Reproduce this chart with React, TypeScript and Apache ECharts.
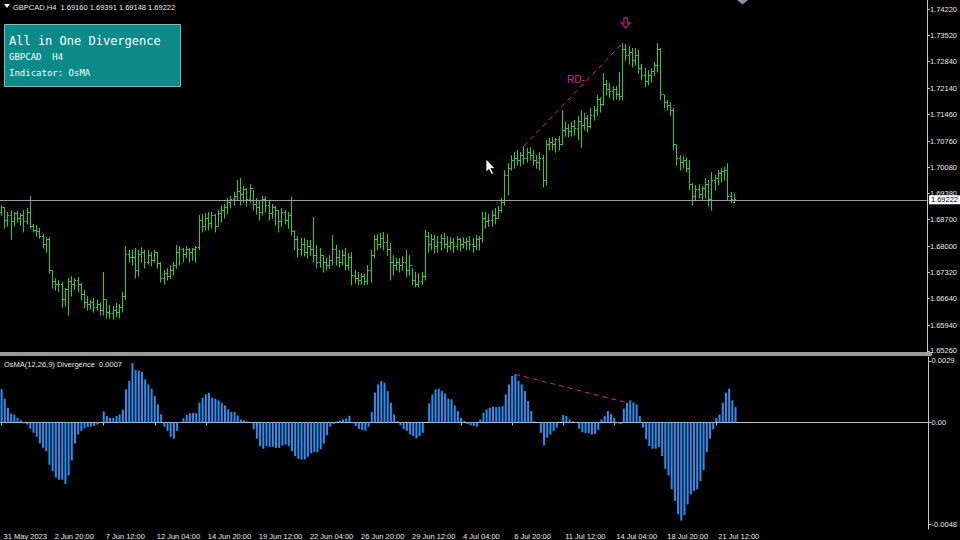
import React, { useEffect, useRef } from "react";
import * as echarts from "echarts";

// ---- data (GBPCAD H4, 231 bars, 3.2px per bar in the picture) ----
const TIME_LABELS = [
  "31 May 2023", "2 Jun 20:00", "7 Jun 12:00", "12 Jun 04:00", "14 Jun 20:00",
  "19 Jun 12:00", "22 Jun 04:00", "26 Jun 20:00", "29 Jun 12:00", "4 Jul 04:00",
  "6 Jul 20:00", "11 Jul 12:00", "14 Jul 04:00", "18 Jul 20:00", "21 Jul 12:00",
];
const LABEL_EVERY = 16;
const SLOT_COUNT = 291;

const PRICE_TICKS = [1.7422, 1.7352, 1.7284, 1.7214, 1.7146, 1.7076, 1.7008, 1.6938, 1.687, 1.68, 1.6732, 1.6664, 1.6594, 1.6526];
const OSMA_TICKS = [0.0029, 0, -0.0048];
const LAST_PRICE = 1.69222;
const PRICE_DIV = [164, 195];
const OSMA_DIV = [161, 196];

const OPEN = [
  1.6890, 1.6901, 1.6869, 1.6882, 1.6864, 1.6885, 1.6874, 1.6880, 1.6864, 1.6890, 1.6853,
  1.6843,
  1.6838, 1.6827, 1.6806, 1.6817, 1.6738, 1.6707, 1.6699, 1.6701, 1.6660, 1.6686, 1.6707, 1.6699, 1.6712, 1.6701,
  1.6673,
  1.6654, 1.6647, 1.6652, 1.6639, 1.6649, 1.6633, 1.6660, 1.6628, 1.6623, 1.6633, 1.6628, 1.6639, 1.6670, 1.6780,
  1.6770,
  1.6770, 1.6738, 1.6780, 1.6785, 1.6759, 1.6775, 1.6764, 1.6783, 1.6754, 1.6717, 1.6728, 1.6722, 1.6738, 1.6749,
  1.6785,
  1.6791, 1.6780, 1.6791, 1.6785, 1.6791, 1.6796, 1.6869, 1.6853, 1.6874, 1.6859, 1.6880, 1.6853, 1.6885, 1.6895,
  1.6901,
  1.6916, 1.6922, 1.6932, 1.6943, 1.6937, 1.6948, 1.6922, 1.6953, 1.6911, 1.6901, 1.6890, 1.6922, 1.6906, 1.6885,
  1.6901,
  1.6895, 1.6864, 1.6890, 1.6869, 1.6880, 1.6838, 1.6817, 1.6791, 1.6806, 1.6785, 1.6801, 1.6791, 1.6777, 1.6759,
  1.6775,
  1.6759, 1.6749, 1.6764, 1.6791, 1.6770, 1.6759, 1.6775, 1.6749, 1.6770, 1.6725, 1.6717, 1.6712, 1.6722, 1.6709,
  1.6738,
  1.6777, 1.6817, 1.6804, 1.6822, 1.6811, 1.6791, 1.6759, 1.6749, 1.6759, 1.6749, 1.6759, 1.6738, 1.6751, 1.6712,
  1.6701,
  1.6707, 1.6722, 1.6827, 1.6806, 1.6817, 1.6801, 1.6811, 1.6822, 1.6806, 1.6801, 1.6811, 1.6801, 1.6817, 1.6806,
  1.6811,
  1.6814, 1.6806, 1.6801, 1.6817, 1.6822, 1.6874, 1.6864, 1.6869, 1.6882, 1.6874, 1.6895, 1.6916, 1.6987, 1.7005,
  1.7026,
  1.7031, 1.7026, 1.7037, 1.7031, 1.7047, 1.7037, 1.7026, 1.7021, 1.7031, 1.6974, 1.7066, 1.7073, 1.7066, 1.7079,
  1.7068,
  1.7105, 1.7110, 1.7100, 1.7115, 1.7110, 1.7126, 1.7118, 1.7136, 1.7115, 1.7144, 1.7157, 1.7184, 1.7173, 1.7223,
  1.7210,
  1.7205, 1.7210, 1.7199, 1.7194, 1.7315, 1.7301, 1.7309, 1.7288, 1.7299, 1.7267, 1.7249, 1.7231, 1.7247, 1.7257,
  1.7273,
  1.7315, 1.7197, 1.7178, 1.7168, 1.7157, 1.7066, 1.7031, 1.7021, 1.7026, 1.7005, 1.6961, 1.6932, 1.6948, 1.6937,
  1.6953,
  1.6961, 1.6922, 1.6974, 1.6979, 1.6990, 1.6995, 1.7000, 1.6932, 1.6916,
];

const HIGH = [
  1.6908, 1.6903, 1.6890, 1.6895, 1.6890, 1.6893, 1.6887, 1.6895, 1.6901, 1.6932, 1.6859,
  1.6856,
  1.6848, 1.6832, 1.6824, 1.6824, 1.6738, 1.6717, 1.6712, 1.6707, 1.6691, 1.6717, 1.6722, 1.6717, 1.6720, 1.6704,
  1.6686,
  1.6670, 1.6660, 1.6665, 1.6660, 1.6654, 1.6733, 1.6660, 1.6647, 1.6644, 1.6652, 1.6649, 1.6681, 1.6801, 1.6791,
  1.6791,
  1.6796, 1.6791, 1.6798, 1.6791, 1.6791, 1.6785, 1.6791, 1.6785, 1.6759, 1.6738, 1.6743, 1.6751, 1.6759, 1.6804,
  1.6801,
  1.6796, 1.6801, 1.6796, 1.6796, 1.6801, 1.6882, 1.6885, 1.6887, 1.6890, 1.6890, 1.6885, 1.6895, 1.6908, 1.6911,
  1.6927,
  1.6932, 1.6943, 1.6974, 1.6979, 1.6958, 1.6953, 1.6963, 1.6948, 1.6927, 1.6922, 1.6932, 1.6930, 1.6922, 1.6911,
  1.6906,
  1.6895, 1.6901, 1.6895, 1.6890, 1.6930, 1.6843, 1.6827, 1.6822, 1.6822, 1.6817, 1.6817, 1.6877, 1.6804, 1.6796,
  1.6777,
  1.6770, 1.6777, 1.6830, 1.6804, 1.6791, 1.6791, 1.6796, 1.6783, 1.6785, 1.6738, 1.6733, 1.6730, 1.6728, 1.6751,
  1.6791,
  1.6830, 1.6832, 1.6835, 1.6838, 1.6832, 1.6809, 1.6777, 1.6770, 1.6770, 1.6775, 1.6791, 1.6777, 1.6743, 1.6733,
  1.6730,
  1.6733, 1.6843, 1.6838, 1.6832, 1.6830, 1.6827, 1.6832, 1.6835, 1.6827, 1.6824, 1.6822, 1.6827, 1.6822, 1.6824,
  1.6824,
  1.6827, 1.6822, 1.6830, 1.6827, 1.6890, 1.6890, 1.6885, 1.6895, 1.6901, 1.6906, 1.6927, 1.7000, 1.7018, 1.7039,
  1.7047,
  1.7053, 1.7047, 1.7063, 1.7058, 1.7060, 1.7053, 1.7039, 1.7047, 1.7039, 1.7079, 1.7084, 1.7087, 1.7084, 1.7089,
  1.7157,
  1.7126, 1.7120, 1.7126, 1.7131, 1.7142, 1.7157, 1.7149, 1.7144, 1.7163, 1.7168, 1.7197, 1.7191, 1.7254, 1.7236,
  1.7228,
  1.7220, 1.7220, 1.7257, 1.7333, 1.7330, 1.7325, 1.7320, 1.7320, 1.7315, 1.7278, 1.7267, 1.7262, 1.7267, 1.7283,
  1.7333,
  1.7320, 1.7197, 1.7184, 1.7178, 1.7163, 1.7066, 1.7039, 1.7037, 1.7034, 1.7026, 1.6966, 1.6961, 1.6963, 1.6958,
  1.6979,
  1.6974, 1.6995, 1.6987, 1.7000, 1.7005, 1.7008, 1.7018, 1.6943, 1.6939,
];

const LOW = [
  1.6882, 1.6848, 1.6853, 1.6819, 1.6853, 1.6864, 1.6856, 1.6838, 1.6859, 1.6848, 1.6838,
  1.6827,
  1.6822, 1.6796, 1.6785, 1.6730, 1.6691, 1.6686, 1.6681, 1.6641, 1.6644, 1.6620, 1.6670, 1.6686, 1.6681, 1.6660,
  1.6639,
  1.6633, 1.6636, 1.6628, 1.6633, 1.6620, 1.6620, 1.6612, 1.6612, 1.6610, 1.6615, 1.6612, 1.6628, 1.6660, 1.6759,
  1.6751,
  1.6717, 1.6722, 1.6759, 1.6743, 1.6754, 1.6749, 1.6759, 1.6743, 1.6707, 1.6701, 1.6712, 1.6717, 1.6725, 1.6743,
  1.6751,
  1.6759, 1.6770, 1.6759, 1.6764, 1.6759, 1.6791, 1.6838, 1.6843, 1.6843, 1.6848, 1.6838, 1.6853, 1.6864, 1.6874,
  1.6885,
  1.6901, 1.6908, 1.6922, 1.6908, 1.6916, 1.6906, 1.6916, 1.6895, 1.6885, 1.6869, 1.6882, 1.6890, 1.6869, 1.6874,
  1.6856,
  1.6838, 1.6853, 1.6859, 1.6848, 1.6830, 1.6791, 1.6772, 1.6777, 1.6775, 1.6770, 1.6777, 1.6759, 1.6743, 1.6746,
  1.6733,
  1.6738, 1.6743, 1.6751, 1.6751, 1.6746, 1.6751, 1.6738, 1.6738, 1.6699, 1.6704, 1.6699, 1.6701, 1.6699, 1.6701,
  1.6707,
  1.6770, 1.6791, 1.6796, 1.6791, 1.6777, 1.6712, 1.6725, 1.6738, 1.6733, 1.6738, 1.6720, 1.6725, 1.6699, 1.6694,
  1.6694,
  1.6701, 1.6712, 1.6785, 1.6791, 1.6783, 1.6785, 1.6791, 1.6796, 1.6785, 1.6791, 1.6785, 1.6791, 1.6788, 1.6796,
  1.6791,
  1.6791, 1.6785, 1.6791, 1.6791, 1.6811, 1.6848, 1.6853, 1.6853, 1.6859, 1.6874, 1.6890, 1.6908, 1.6935, 1.7000,
  1.7005,
  1.7013, 1.7011, 1.7016, 1.7021, 1.7026, 1.7013, 1.7005, 1.7000, 1.6956, 1.6961, 1.7053, 1.7053, 1.7047, 1.7053,
  1.7066,
  1.7089, 1.7087, 1.7089, 1.7092, 1.7079, 1.7060, 1.7105, 1.7100, 1.7110, 1.7131, 1.7144, 1.7152, 1.7170, 1.7197,
  1.7189,
  1.7184, 1.7186, 1.7184, 1.7184, 1.7288, 1.7278, 1.7270, 1.7275, 1.7254, 1.7236, 1.7218, 1.7223, 1.7231, 1.7247,
  1.7257,
  1.7184, 1.7163, 1.7157, 1.7144, 1.7053, 1.7013, 1.7000, 1.7005, 1.6995, 1.6948, 1.6908, 1.6922, 1.6927, 1.6922,
  1.6927,
  1.6906, 1.6895, 1.6948, 1.6961, 1.6969, 1.6974, 1.6922, 1.6914, 1.6915,
];

const CLOSE = [
  1.6901, 1.6869, 1.6882, 1.6864, 1.6885, 1.6874, 1.6880, 1.6864, 1.6890, 1.6853, 1.6843,
  1.6838,
  1.6827, 1.6806, 1.6817, 1.6738, 1.6707, 1.6699, 1.6701, 1.6660, 1.6686, 1.6707, 1.6699, 1.6712, 1.6701, 1.6673,
  1.6654,
  1.6647, 1.6652, 1.6639, 1.6649, 1.6633, 1.6660, 1.6628, 1.6623, 1.6633, 1.6628, 1.6639, 1.6670, 1.6780, 1.6770,
  1.6770,
  1.6738, 1.6780, 1.6785, 1.6759, 1.6775, 1.6764, 1.6783, 1.6754, 1.6717, 1.6728, 1.6722, 1.6738, 1.6749, 1.6785,
  1.6791,
  1.6780, 1.6791, 1.6785, 1.6791, 1.6796, 1.6869, 1.6853, 1.6874, 1.6859, 1.6880, 1.6853, 1.6885, 1.6895, 1.6901,
  1.6916,
  1.6922, 1.6932, 1.6943, 1.6937, 1.6948, 1.6922, 1.6953, 1.6911, 1.6901, 1.6890, 1.6922, 1.6906, 1.6885, 1.6901,
  1.6895,
  1.6864, 1.6890, 1.6869, 1.6880, 1.6838, 1.6817, 1.6791, 1.6806, 1.6785, 1.6801, 1.6791, 1.6777, 1.6759, 1.6775,
  1.6759,
  1.6749, 1.6764, 1.6791, 1.6770, 1.6759, 1.6775, 1.6749, 1.6770, 1.6725, 1.6717, 1.6712, 1.6722, 1.6709, 1.6738,
  1.6777,
  1.6817, 1.6804, 1.6822, 1.6811, 1.6791, 1.6759, 1.6749, 1.6759, 1.6749, 1.6759, 1.6738, 1.6751, 1.6712, 1.6701,
  1.6707,
  1.6722, 1.6827, 1.6806, 1.6817, 1.6801, 1.6811, 1.6822, 1.6806, 1.6801, 1.6811, 1.6801, 1.6817, 1.6806, 1.6811,
  1.6814,
  1.6806, 1.6801, 1.6817, 1.6822, 1.6874, 1.6864, 1.6869, 1.6882, 1.6874, 1.6895, 1.6916, 1.6987, 1.7005, 1.7026,
  1.7031,
  1.7026, 1.7037, 1.7031, 1.7047, 1.7037, 1.7026, 1.7021, 1.7031, 1.6974, 1.7066, 1.7073, 1.7066, 1.7079, 1.7068,
  1.7105,
  1.7110, 1.7100, 1.7115, 1.7110, 1.7126, 1.7118, 1.7136, 1.7115, 1.7144, 1.7157, 1.7184, 1.7173, 1.7223, 1.7210,
  1.7205,
  1.7210, 1.7199, 1.7194, 1.7315, 1.7301, 1.7309, 1.7288, 1.7299, 1.7267, 1.7249, 1.7231, 1.7247, 1.7257, 1.7273,
  1.7315,
  1.7197, 1.7178, 1.7168, 1.7157, 1.7066, 1.7031, 1.7021, 1.7026, 1.7005, 1.6961, 1.6932, 1.6948, 1.6937, 1.6953,
  1.6961,
  1.6922, 1.6974, 1.6979, 1.6990, 1.6995, 1.7000, 1.6932, 1.6922, 1.6922,
];

const OSMA = [
  0.00156, 0.00112, 0.00069, 0.00042, 0.00036, 0.00022, 0.0001, -0.00005, -0.0001, -0.0003, -0.00049,
  -0.00068,
  -0.00099, -0.0012, -0.00135, -0.002, -0.0023, -0.0026, -0.0027, -0.0027, -0.0029, -0.0025, -0.0018, -0.001, -0.00057, -0.0004,
  -0.00028,
  -0.00022, -0.0002, -0.00017, -0.0001, -0.00002, 0.00052, 0.0003, 0.00022, 0.00022, 0.0003, 0.00038, 0.0006, 0.00156, 0.00195,
  0.0028,
  0.00247, 0.00245, 0.00238, 0.00203, 0.00179, 0.00159, 0.00124, 0.00085, 0.00038, -0.0002, -0.0004, -0.00068, -0.00077, -0.0004,
  -0.00003,
  0.00019, 0.00036, 0.00044, 0.00044, 0.00044, 0.00093, 0.00116, 0.00132, 0.0014, 0.00116, 0.00112, 0.00104, 0.00093, 0.0008,
  0.00061,
  0.00049, 0.00049, 0.00033, 0.00014, 0.0001, 0.00005, -0.00002, -0.00033, -0.00077, -0.00112, -0.00124, -0.00112, -0.00115, -0.00115,
  -0.0012,
  -0.0012, -0.00109, -0.00104, -0.00112, -0.00135, -0.00159, -0.00172, -0.00175, -0.00175, -0.00162, -0.00146, -0.0014, -0.0014, -0.00127,
  -0.001,
  -0.0006, -0.0002, -0.00008, 0.00005, 0.00008, 0.00014, 0.00019, 0.00031, -0.00005, -0.00017, -0.0003, -0.00036, -0.00039, -0.0002,
  0.0005,
  0.0014, 0.00179, 0.00195, 0.00187, 0.00148, 0.00093, 0.00038, 0.00006, -0.00014, -0.00033, -0.0004, -0.00057, -0.00065, -0.00075,
  -0.00064,
  -0.00049, 0, 0.0009, 0.00132, 0.00156, 0.00159, 0.00148, 0.00137, 0.00112, 0.00109, 0.0008, 0.00054, 0.00022, 0.00008,
  -0.00008,
  -0.00014, -0.00017, -0.0002, 0.00014, 0.00046, 0.00061, 0.00069, 0.00074, 0.00072, 0.00074, 0.00077, 0.00132, 0.00179, 0.00219,
  0.00227,
  0.00195, 0.00179, 0.00148, 0.00101, 0.00054, 0.00006, 0, -0.00049, -0.00109, -0.00072, -0.00057, -0.0004, -0.00025, 0,
  0.00035,
  0.0003, 0.00014, 0.00005, -0.00002, -0.0003, -0.00046, -0.00051, -0.00051, -0.00057, -0.00054, -0.00036, 0.00014, 0.0003, 0.00054,
  0.0004,
  0.00022, -0.00003, -0.00008, 0.00065, 0.00093, 0.00104, 0.00093, 0.00085, 0.0003, -0.00025, -0.0008, -0.00112, -0.00124, -0.00124,
  -0.00117,
  -0.00159, -0.00219, -0.0025, -0.00316, -0.00371, -0.00434, -0.00463, -0.00437, -0.00387, -0.0034, -0.00324, -0.00316, -0.00277, -0.00225,
  -0.0014,
  -0.00077, -0.00033, 0.0002, 0.00038, 0.00093, 0.0014, 0.00159, 0.00104, 0.00072,
];

// ---- styles ----
const GREEN = "#35c535";
const BLUE = "#2a8ff0";
const MAGENTA = "#d4238f";
const AXIS = "#c8c8c8";
const TXT = "#e8e8e8";
const FONT = "Liberation Sans";

export default function App() {
  const ref = useRef<HTMLDivElement>(null);

  useEffect(() => {
    const chart = echarts.init(ref.current!, null, { renderer: "svg" });

    const cats: string[] = [];
    for (let j = 0; j < SLOT_COUNT; j++) {
      const k = j / LABEL_EVERY;
      cats.push(j % LABEL_EVERY === 0 && k < TIME_LABELS.length ? TIME_LABELS[k] : "");
    }
    const showCat = (_i: number, v: string) => v !== "";

    const ohlc = OPEN.map((o, j) => [j, o, HIGH[j], LOW[j], CLOSE[j]]);

    const option: any = {
      animation: false,
      backgroundColor: "#000000",
      grid: [
        { left: -0.8, top: 0, width: 932, height: 352 },
        { left: -0.8, top: 357, width: 932, height: 173 },
      ],
      xAxis: [
        { type: "category", gridIndex: 0, data: cats, boundaryGap: true, show: false },
        {
          type: "category",
          gridIndex: 1,
          data: cats,
          boundaryGap: true,
          axisLine: { show: true, lineStyle: { color: AXIS, width: 1 } },
          axisTick: { show: true, alignWithLabel: true, interval: showCat, length: 3, lineStyle: { color: AXIS } },
          axisLabel: {
            show: true,
            interval: showCat,
            color: TXT,
            fontSize: 7.5,
            fontFamily: FONT,
            align: "left",
            margin: 3,
            padding: [0, 0, 0, 2],
          },
          splitLine: { show: false },
        },
      ],
      yAxis: [
        {
          type: "value",
          gridIndex: 0,
          position: "right",
          min: 1.652336,
          max: 1.74456,
          splitLine: { show: false },
          axisLine: { show: true, lineStyle: { color: AXIS } },
          axisTick: { show: true, length: 3, customValues: PRICE_TICKS, lineStyle: { color: AXIS } },
          axisLabel: {
            customValues: PRICE_TICKS,
            formatter: (v: number) => v.toFixed(5),
            color: TXT,
            fontSize: 7.5,
            fontFamily: FONT,
            margin: 3,
          },
        },
        {
          type: "value",
          gridIndex: 1,
          position: "right",
          min: -0.005028,
          max: 0.003086,
          splitLine: { show: false },
          axisLine: { show: true, lineStyle: { color: AXIS } },
          axisTick: { show: true, length: 3, customValues: OSMA_TICKS, lineStyle: { color: AXIS } },
          axisLabel: {
            customValues: OSMA_TICKS,
            formatter: (v: number) => (v === 0 ? "0.00" : v.toFixed(4)),
            color: TXT,
            fontSize: 7.5,
            fontFamily: FONT,
            margin: 3,
          },
        },
      ],
      series: [
        {
          type: "custom",
          xAxisIndex: 0,
          yAxisIndex: 0,
          data: ohlc,
          encode: { x: 0, y: [1, 2, 3, 4] },
          silent: true,
          renderItem: (_p: any, api: any) => {
            const j = api.value(0);
            const o = api.coord([j, api.value(1)]);
            const h = api.coord([j, api.value(2)]);
            const l = api.coord([j, api.value(3)]);
            const c = api.coord([j, api.value(4)]);
            const cx = Math.floor(h[0]) + 0.5;
            const oy = Math.floor(o[1]) + 0.5;
            const cy = Math.floor(c[1]) + 0.5;
            const st = { stroke: GREEN, lineWidth: 1 };
            return {
              type: "group",
              children: [
                { type: "line", shape: { x1: cx, y1: h[1], x2: cx, y2: l[1] + 0.5 }, style: st },
                { type: "line", shape: { x1: cx - 1.5, y1: oy, x2: cx, y2: oy }, style: st },
                { type: "line", shape: { x1: cx, y1: cy, x2: cx + 1.5, y2: cy }, style: st },
              ],
            };
          },
          z: 3,
        },
        {
          type: "line",
          xAxisIndex: 0,
          yAxisIndex: 0,
          data: [
            [PRICE_DIV[0], HIGH[PRICE_DIV[0]]],
            [PRICE_DIV[1], HIGH[PRICE_DIV[1]]],
          ],
          symbol: "none",
          silent: true,
          lineStyle: { color: MAGENTA, width: 1, type: [5, 4] },
          z: 4,
          markLine: {
            silent: true,
            symbol: "none",
            precision: 5,
            data: [{ yAxis: LAST_PRICE }],
            lineStyle: { color: "#9c9ca8", width: 1, type: "solid" },
            label: {
              show: true,
              position: "end",
              formatter: LAST_PRICE.toFixed(5),
              color: "#000",
              backgroundColor: "#ffffff",
              fontSize: 7.5,
              fontFamily: FONT,
              padding: [1, 2, 0, 2],
              distance: 2,
            },
            z: 5,
          },
        },
        {
          type: "scatter",
          xAxisIndex: 0,
          yAxisIndex: 0,
          data: [[PRICE_DIV[1], HIGH[PRICE_DIV[1]]]],
          symbol: "path://M3 0L7 0L7 5L10 5L5 10L0 5L3 5Z",
          symbolSize: [9, 10],
          symbolOffset: [3, -20],
          silent: true,
          itemStyle: { color: "rgba(0,0,0,0)", borderColor: MAGENTA, borderWidth: 1.3 },
          z: 5,
        },
        {
          type: "bar",
          xAxisIndex: 1,
          yAxisIndex: 1,
          data: OSMA,
          barWidth: 2,
          silent: true,
          itemStyle: { color: BLUE },
        },
        {
          type: "line",
          xAxisIndex: 1,
          yAxisIndex: 1,
          data: [
            [OSMA_DIV[0], OSMA[OSMA_DIV[0]]],
            [OSMA_DIV[1], OSMA[OSMA_DIV[1]]],
          ],
          symbol: "none",
          silent: true,
          lineStyle: { color: MAGENTA, width: 1, type: [5, 4] },
          z: 4,
        },
      ],
      graphic: [
        { type: "rect", shape: { x: 0, y: 352, width: 932, height: 4 }, style: { fill: "#9a9a9a" }, silent: true },
        { type: "polygon", shape: { points: [[4, 4], [10, 4], [7, 8]] }, style: { fill: "#ffffff" } },
        {
          type: "text",
          x: 13,
          y: 7,
          style: {
            text: "GBPCAD,H4  1.69160 1.69391 1.69148 1.69222",
            fill: TXT,
            font: `7.5px ${FONT}`,
            verticalAlign: "middle",
          },
        },
        {
          type: "rect",
          shape: { x: 4.5, y: 24.5, width: 176, height: 62 },
          style: { fill: "#0b8a8a", stroke: "#86b8b8", lineWidth: 1 },
        },
        {
          type: "text",
          x: 9,
          y: 41,
          style: { text: "All in One Divergence", fill: "#ffffff", font: "12px 'DejaVu Sans Mono'", verticalAlign: "middle" },
        },
        {
          type: "text",
          x: 9,
          y: 57,
          style: { text: "GBPCAD  H4", fill: "#ffffff", font: "9px 'DejaVu Sans Mono'", verticalAlign: "middle" },
        },
        {
          type: "text",
          x: 9,
          y: 73,
          style: { text: "Indicator: OsMA", fill: "#ffffff", font: "9px 'DejaVu Sans Mono'", verticalAlign: "middle" },
        },
        {
          type: "text",
          x: 4,
          y: 364,
          style: { text: "OsMA(12,26,9) Divergence  0.0007", fill: TXT, font: `7.5px ${FONT}`, verticalAlign: "middle" },
        },
        {
          type: "text",
          x: 567,
          y: 79,
          style: { text: "RD-", fill: MAGENTA, font: `10px ${FONT}`, verticalAlign: "middle" },
        },
        {
          type: "polygon",
          shape: { points: [[486, 159], [486, 172], [489, 169.5], [491.5, 174.5], [493.5, 173.5], [491, 168.5], [495, 168.5]] },
          style: { fill: "#ffffff", stroke: "#000000", lineWidth: 0.8 },
        },
        { type: "polygon", shape: { points: [[737, 0], [748, 0], [742.5, 4.5]] }, style: { fill: "#8a92a6" } },
      ],
    };

    chart.setOption(option);
    return () => chart.dispose();
  }, []);

  return (
    <div
      ref={ref}
      style={{ position: "fixed", left: 0, top: 0, width: 960, height: 540, background: "#000" }}
    />
  );
}
